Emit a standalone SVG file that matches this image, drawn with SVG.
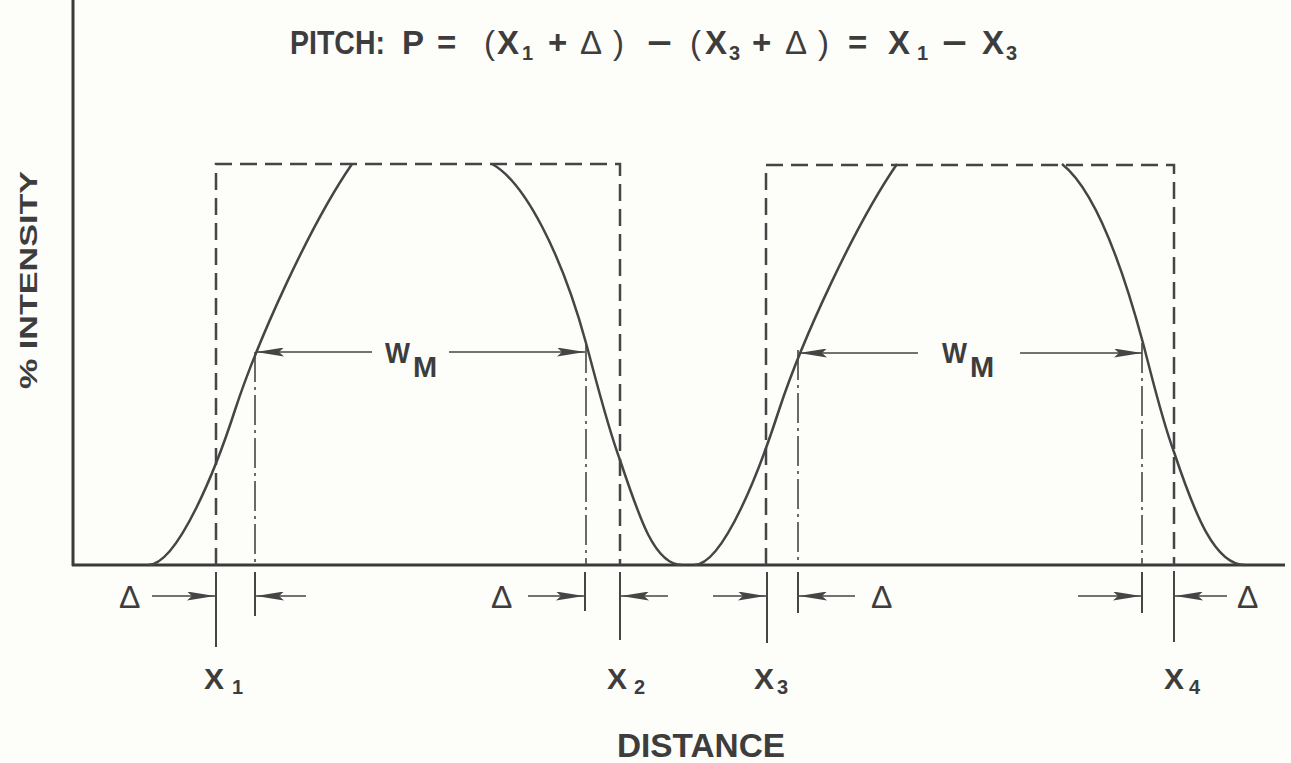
<svg xmlns="http://www.w3.org/2000/svg" width="1291" height="763" viewBox="0 0 1291 763">
<style>
.bg{fill:#fdfdfa}
.axis{stroke:#3a3a3a;stroke-width:3;fill:none}
.curve{stroke:#454545;stroke-width:2.5;fill:none}
.dash{stroke:#454545;stroke-width:2.5;fill:none;stroke-dasharray:17 8}
.dashdot{stroke:#454545;stroke-width:1.6;fill:none;stroke-dasharray:30 5 3 5}
.tick{stroke:#454545;stroke-width:2;fill:none}
.dim{stroke:#454545;stroke-width:1.6;fill:none;marker-end:url(#ah)}
.t{font-family:"Liberation Sans",Arial,sans-serif;font-weight:bold;fill:#3d3d3d}
.tn{font-family:"Liberation Sans",Arial,sans-serif;font-weight:normal;fill:#3d3d3d}
</style>
<defs>
<marker id="ah" viewBox="0 0 28 9" refX="28" refY="4.5" markerWidth="28" markerHeight="9" markerUnits="userSpaceOnUse" orient="auto">
<path d="M0,0 L28,4.5 L0,9 L5,4.5 Z" fill="#454545"/>
</marker>
</defs>
<rect class="bg" x="0" y="0" width="1291" height="763"/>

<g id="axes">
<line class="axis" x1="73" y1="0" x2="73" y2="566"/>
<line class="axis" x1="72" y1="565" x2="1285" y2="565"/>
</g>

<g id="ylabel">
<text class="t" font-size="24" transform="translate(37,280) rotate(-90)" text-anchor="middle" textLength="218" lengthAdjust="spacingAndGlyphs">% INTENSITY</text>
</g>

<g id="title" font-size="33">
<text class="t" x="290" y="54" textLength="95" lengthAdjust="spacingAndGlyphs">PITCH:</text>
<text class="t" x="402" y="54">P</text>
<text class="t" x="437" y="54">=</text>
<text class="tn" x="484" y="54">(</text>
<text class="t" x="497" y="54">X</text>
<text class="t" x="522" y="60" font-size="20">1</text>
<text class="t" x="548" y="54">+</text>
<text class="tn" x="580" y="54">Δ</text>
<text class="tn" x="613" y="54">)</text>
<text class="t" x="647" y="54" textLength="25" lengthAdjust="spacingAndGlyphs">−</text>
<text class="tn" x="690" y="54">(</text>
<text class="t" x="705" y="54">X</text>
<text class="t" x="729" y="60" font-size="20">3</text>
<text class="t" x="752" y="54">+</text>
<text class="tn" x="785" y="54">Δ</text>
<text class="tn" x="818" y="54">)</text>
<text class="t" x="848" y="54">=</text>
<text class="t" x="888" y="54">X</text>
<text class="t" x="917" y="60" font-size="20">1</text>
<text class="t" x="942" y="54" textLength="25" lengthAdjust="spacingAndGlyphs">−</text>
<text class="t" x="982" y="54">X</text>
<text class="t" x="1006" y="60" font-size="20">3</text>
</g>

<g id="line-1">
<path class="dash" d="M216,565 V164 H620 V565"/>
<path class="dashdot" d="M255,352 V565"/>
<path class="dashdot" d="M586,343 V565"/>
<path class="curve" d="M148,565 C178,565 217,466 235,410 C258,340 310,225 352,164"/>
<path class="curve" d="M492,164 C525,182 562,255 586,343 C594,372 607,425 620,460 C640,520 655,565 682,565"/>
<text class="t" x="385" y="363" font-size="29" textLength="25" lengthAdjust="spacingAndGlyphs">W</text>
<text class="t" x="413" y="377" font-size="29">M</text>
</g>

<g id="line-2">
<path class="dash" d="M766,565 V165 H1174 V565"/>
<path class="dashdot" d="M798,350 V565"/>
<path class="dashdot" d="M1142,343 V565"/>
<path class="curve" d="M694,565 C724,565 761,466 779,410 C802,340 855,225 897,164"/>
<path class="curve" d="M1062,164 C1095,190 1122,265 1143,343 C1152,377 1162,420 1174,452 C1195,515 1215,565 1245,565"/>
<text class="t" x="942" y="363" font-size="29" textLength="25" lengthAdjust="spacingAndGlyphs">W</text>
<text class="t" x="970" y="377" font-size="29">M</text>
</g>

<g id="ticks">
<line class="tick" x1="216" y1="572" x2="216" y2="647"/>
<line class="tick" x1="255" y1="572" x2="255" y2="616"/>
<line class="tick" x1="585" y1="572" x2="585" y2="611"/>
<line class="tick" x1="620" y1="572" x2="620" y2="640"/>
<line class="tick" x1="767" y1="572" x2="767" y2="643"/>
<line class="tick" x1="798" y1="572" x2="798" y2="613"/>
<line class="tick" x1="1142" y1="572" x2="1142" y2="613"/>
<line class="tick" x1="1174" y1="571" x2="1174" y2="642"/>
</g>

<g id="connectors">
<line class="dim" x1="372" y1="352" x2="256" y2="352"/>
<line class="dim" x1="449" y1="352" x2="585" y2="352"/>
<line class="dim" x1="918" y1="353" x2="799" y2="353"/>
<line class="dim" x1="1020" y1="353" x2="1142" y2="353"/>
<line class="dim" x1="152" y1="596" x2="215" y2="596"/>
<line class="dim" x1="306" y1="596" x2="256" y2="596"/>
<line class="dim" x1="528" y1="596" x2="584" y2="596"/>
<line class="dim" x1="668" y1="596" x2="621" y2="596"/>
<line class="dim" x1="713" y1="596" x2="766" y2="596"/>
<line class="dim" x1="855" y1="596" x2="799" y2="596"/>
<line class="dim" x1="1078" y1="596" x2="1141" y2="596"/>
<line class="dim" x1="1227" y1="596" x2="1175" y2="596"/>
</g>

<g id="delta-labels" font-size="32">
<text class="tn" x="119" y="608">Δ</text>
<text class="tn" x="491" y="608">Δ</text>
<text class="tn" x="871" y="608">Δ</text>
<text class="tn" x="1237" y="608">Δ</text>
</g>

<g id="x-labels" font-size="30">
<text class="t" x="204" y="689">X</text>
<text class="t" x="232" y="694" font-size="20">1</text>
<text class="t" x="607" y="689">X</text>
<text class="t" x="634" y="694" font-size="20">2</text>
<text class="t" x="754" y="689">X</text>
<text class="t" x="777" y="694" font-size="20">3</text>
<text class="t" x="1164" y="689">X</text>
<text class="t" x="1189" y="694" font-size="20">4</text>
</g>

<g id="xlabel">
<text class="t" x="617" y="757" font-size="33" textLength="168" lengthAdjust="spacingAndGlyphs">DISTANCE</text>
</g>
</svg>
